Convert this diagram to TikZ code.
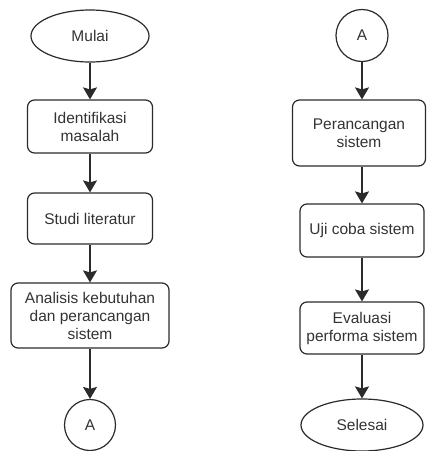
\documentclass[tikz,border=0pt]{standalone}
\usepackage{fontspec}
\setmainfont{Liberation Sans}
\usetikzlibrary{shapes.geometric,arrows.meta}
\definecolor{ln}{HTML}{2B2B2B}
\definecolor{tx}{HTML}{333333}
\begin{document}
\begin{tikzpicture}[x=1pt,y=1pt,
  base/.style={draw=ln,line width=1.2pt,text=tx,align=center,inner sep=0pt,
    font=\fontsize{15.5}{18}\selectfont},
  proc/.style={base,rectangle,rounded corners=7pt},
  term/.style={base,ellipse},
  conn/.style={base,circle},
  arr/.style={draw=ln,line width=1.2pt,-{Stealth[length=12pt,width=14pt,inset=2pt]}}]
\useasboundingbox (0,0) rectangle (427,-451);
% left column
\node[term,minimum width=118pt,minimum height=52pt] (mulai) at (90,-36) {Mulai};
\node[proc,minimum width=125pt,minimum height=53pt] (ident) at (90,-126.5) {Identifikasi\\masalah};
\node[proc,minimum width=125pt,minimum height=51pt] (studi) at (90,-218.5) {Studi literatur};
\node[proc,minimum width=158pt,minimum height=65pt] (anal) at (90,-315.5) {Analisis kebutuhan\\dan perancangan\\sistem};
\node[conn,minimum size=51pt] (a1) at (90,-425) {A};
% right column
\node[conn,minimum size=52pt] (a2) at (362,-35.5) {A};
\node[proc,minimum width=133pt,minimum height=66pt] (peran) at (359,-133) {Perancangan\\sistem};
\node[proc,minimum width=124pt,minimum height=53pt] (uji) at (362,-230.5) {Uji coba sistem};
\node[proc,minimum width=124pt,minimum height=52pt] (eval) at (362,-328) {Evaluasi\\performa sistem};
\node[term,minimum width=122pt,minimum height=52pt] (selesai) at (362,-425) {Selesai};
% arrows
\draw[arr] (mulai.south) -- (mulai.south |- ident.north);
\draw[arr] (ident.south) -- (ident.south |- studi.north);
\draw[arr] (studi.south) -- (studi.south |- anal.north);
\draw[arr] (anal.south) -- (anal.south |- a1.north);
\draw[arr] (a2.south) -- (a2.south |- peran.north);
\draw[arr] (uji.north |- peran.south) -- (uji.north);
\draw[arr] (uji.south) -- (uji.south |- eval.north);
\draw[arr] (eval.south) -- (eval.south |- selesai.north);
\end{tikzpicture}
\end{document}
